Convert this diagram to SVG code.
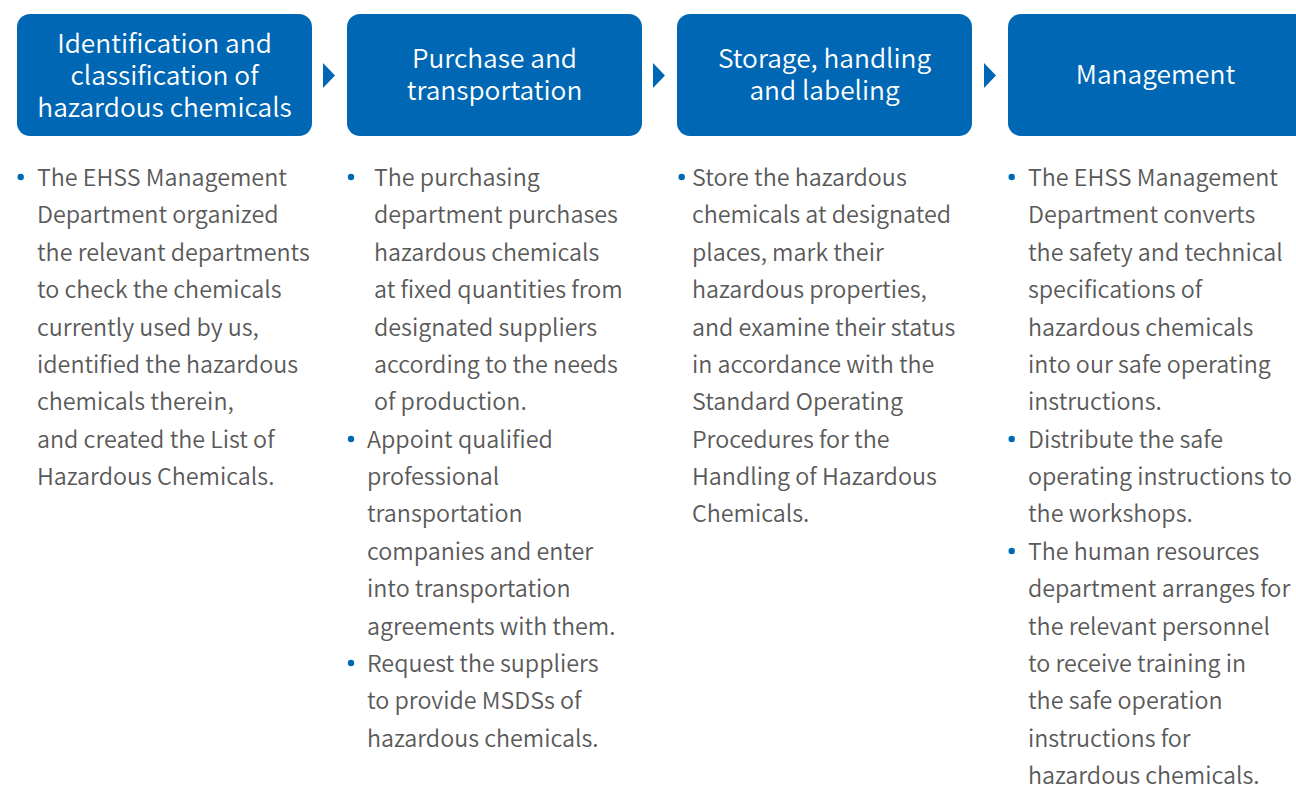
<svg xmlns="http://www.w3.org/2000/svg" width="1296" height="787" viewBox="0 0 1296 787">
<style>
.box{fill:#0067b4}
.ttl{font-family:"Noto Sans CJK SC","Noto Sans",sans-serif;font-size:26.3px;font-weight:350;fill:#ffffff;text-anchor:middle}
.body{font-family:"Noto Sans CJK SC","Noto Sans",sans-serif;font-size:23.3px;font-weight:350;fill:#595959}
.dot{fill:#0067b4}
.arr{fill:#0067b4}
</style>
<rect width="1296" height="787" fill="#ffffff"/>
<g id="connectors">
<polygon class="arr" points="323,63 335,75.5 323,88"/>
<polygon class="arr" points="653,63 665,75.5 653,88"/>
<polygon class="arr" points="984,63 996,75.5 984,88"/>
</g>
<g id="node1">
<rect class="box" x="17" y="14" width="295" height="122" rx="13"/>
<text class="ttl" x="164.5" y="52.5">Identification and</text>
<text class="ttl" x="164.5" y="84.5">classification of</text>
<text class="ttl" x="164.5" y="116.5">hazardous chemicals</text>
<circle class="dot" cx="20.7" cy="177" r="3.2"/>
<g class="body">
<text x="37" y="186">The EHSS Management</text>
<text x="37" y="223.4">Department organized</text>
<text x="37" y="260.8">the relevant departments</text>
<text x="37" y="298.1">to check the chemicals</text>
<text x="37" y="335.5">currently used by us,</text>
<text x="37" y="372.9">identified the hazardous</text>
<text x="37" y="410.3">chemicals therein,</text>
<text x="37" y="447.6">and created the List of</text>
<text x="37" y="485">Hazardous Chemicals.</text>
</g>
</g>
<g id="node2">
<rect class="box" x="347" y="14" width="295" height="122" rx="13"/>
<text class="ttl" x="494.5" y="67.5">Purchase and</text>
<text class="ttl" x="494.5" y="99.5">transportation</text>
<circle class="dot" cx="351" cy="177" r="3.2"/>
<circle class="dot" cx="351" cy="439" r="3.2"/>
<circle class="dot" cx="351" cy="663" r="3.2"/>
<g class="body">
<text x="374" y="186">The purchasing</text>
<text x="374" y="223.4">department purchases</text>
<text x="374" y="260.8">hazardous chemicals</text>
<text x="374" y="298.1">at fixed quantities from</text>
<text x="374" y="335.5">designated suppliers</text>
<text x="374" y="372.9">according to the needs</text>
<text x="374" y="410.3">of production.</text>
<text x="367" y="447.6">Appoint qualified</text>
<text x="367" y="485">professional</text>
<text x="367" y="522.4">transportation</text>
<text x="367" y="559.8">companies and enter</text>
<text x="367" y="597.1">into transportation</text>
<text x="367" y="634.5">agreements with them.</text>
<text x="367" y="671.9">Request the suppliers</text>
<text x="367" y="709.3">to provide MSDSs of</text>
<text x="367" y="746.6">hazardous chemicals.</text>
</g>
</g>
<g id="node3">
<rect class="box" x="677" y="14" width="295" height="122" rx="13"/>
<text class="ttl" x="824.5" y="67.5">Storage, handling</text>
<text class="ttl" x="824.5" y="99.5">and labeling</text>
<circle class="dot" cx="681.7" cy="177" r="3.2"/>
<g class="body">
<text x="692" y="186">Store the hazardous</text>
<text x="692" y="223.4">chemicals at designated</text>
<text x="692" y="260.8">places, mark their</text>
<text x="692" y="298.1">hazardous properties,</text>
<text x="692" y="335.5">and examine their status</text>
<text x="692" y="372.9">in accordance with the</text>
<text x="692" y="410.3">Standard Operating</text>
<text x="692" y="447.6">Procedures for the</text>
<text x="692" y="485">Handling of Hazardous</text>
<text x="692" y="522.4">Chemicals.</text>
</g>
</g>
<g id="node4">
<rect class="box" x="1008" y="14" width="310" height="122" rx="13"/>
<text class="ttl" x="1155.5" y="83.5">Management</text>
<circle class="dot" cx="1011.7" cy="177" r="3.2"/>
<circle class="dot" cx="1011.7" cy="439" r="3.2"/>
<circle class="dot" cx="1011.7" cy="551" r="3.2"/>
<g class="body">
<text x="1028" y="186">The EHSS Management</text>
<text x="1028" y="223.4">Department converts</text>
<text x="1028" y="260.8">the safety and technical</text>
<text x="1028" y="298.1">specifications of</text>
<text x="1028" y="335.5">hazardous chemicals</text>
<text x="1028" y="372.9">into our safe operating</text>
<text x="1028" y="410.3">instructions.</text>
<text x="1028" y="447.6">Distribute the safe</text>
<text x="1028" y="485">operating instructions to</text>
<text x="1028" y="522.4">the workshops.</text>
<text x="1028" y="559.8">The human resources</text>
<text x="1028" y="597.1">department arranges for</text>
<text x="1028" y="634.5">the relevant personnel</text>
<text x="1028" y="671.9">to receive training in</text>
<text x="1028" y="709.3">the safe operation</text>
<text x="1028" y="746.6">instructions for</text>
<text x="1028" y="784">hazardous chemicals.</text>
</g>
</g>
</svg>
